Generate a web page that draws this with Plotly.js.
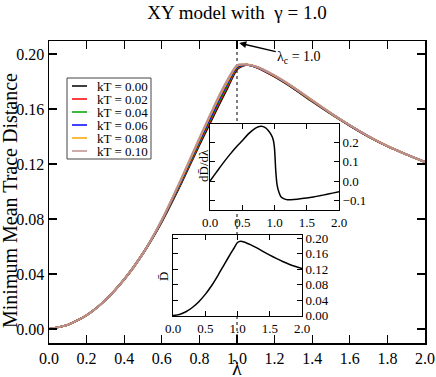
<!DOCTYPE html>
<html>
<head>
<meta charset="utf-8">
<script src="https://cdn.plot.ly/plotly-3.0.1.min.js"></script>
<style>
  html, body { margin: 0; padding: 0; background: #fff; }
  #chart { width: 436px; height: 377px; }
</style>
</head>
<body>
<div id="chart"></div>
<script>
// lambda grid for the main curves and the D inset
const lam = [0, 0.1, 0.2, 0.3, 0.4, 0.5, 0.6, 0.7, 0.8, 0.9, 0.95, 1.0, 1.05, 1.1, 1.2, 1.3, 1.4, 1.5, 1.6, 1.7, 1.8, 1.9, 2.0];

const kT = ['0.00', '0.02', '0.04', '0.06', '0.08', '0.10'];
const kTColors = ['#000000', '#ff0000', '#00a000', '#0000ff', '#ffa500', '#bc8f8f'];

const D000 = [0, 0.003, 0.010, 0.021, 0.036, 0.055, 0.0780, 0.1050, 0.1340, 0.1620, 0.1755, 0.1890, 0.1922, 0.1905, 0.1835, 0.1750, 0.1655, 0.1565, 0.1480, 0.1400, 0.1330, 0.1270, 0.1215];
const D002 = [0, 0.003, 0.010, 0.021, 0.036, 0.055, 0.0783, 0.1057, 0.1350, 0.1633, 0.1767, 0.1896, 0.1922, 0.1906, 0.1837, 0.1752, 0.1657, 0.1566, 0.1480, 0.1400, 0.1330, 0.1270, 0.1215];
const D004 = [0, 0.003, 0.010, 0.021, 0.036, 0.055, 0.0786, 0.1064, 0.1360, 0.1646, 0.1779, 0.1902, 0.1923, 0.1907, 0.1839, 0.1754, 0.1659, 0.1567, 0.1481, 0.1400, 0.1330, 0.1270, 0.1215];
const D006 = [0, 0.003, 0.010, 0.021, 0.036, 0.055, 0.0789, 0.1071, 0.1370, 0.1659, 0.1791, 0.1908, 0.1923, 0.1908, 0.1841, 0.1756, 0.1661, 0.1568, 0.1481, 0.1401, 0.1330, 0.1270, 0.1215];
const D008 = [0, 0.003, 0.010, 0.021, 0.036, 0.055, 0.0792, 0.1078, 0.1380, 0.1672, 0.1803, 0.1914, 0.1924, 0.1909, 0.1843, 0.1758, 0.1663, 0.1569, 0.1482, 0.1401, 0.1331, 0.1270, 0.1215];
const D010 = [0, 0.003, 0.010, 0.021, 0.036, 0.055, 0.0795, 0.1085, 0.1390, 0.1685, 0.1815, 0.1920, 0.1924, 0.1910, 0.1845, 0.1760, 0.1665, 0.1570, 0.1482, 0.1402, 0.1331, 0.1271, 0.1215];
const Dseries = [D000, D002, D004, D006, D008, D010];

// derivative inset (kT = 0)
const lamDer = [0, 0.1, 0.2, 0.3, 0.4, 0.5, 0.6, 0.7, 0.75, 0.8, 0.85, 0.9, 0.95, 0.98, 1.0, 1.02, 1.04, 1.07, 1.1, 1.15, 1.2, 1.25, 1.3, 1.4, 1.5, 1.6, 1.7, 1.8, 1.9, 2.0];
const dDdl = [0, 0.046, 0.092, 0.135, 0.175, 0.21, 0.247, 0.274, 0.283, 0.285, 0.279, 0.265, 0.240, 0.215, 0.17, 0.05, -0.02, -0.06, -0.082, -0.093, -0.097, -0.097, -0.096, -0.093, -0.089, -0.083, -0.077, -0.070, -0.063, -0.056];

const lambdaC = 1.0;

// page geometry (pixels) -> paper fractions
const W = 436, H = 377, ML = 49, MR = 11, MT = 41, MB = 34;
const px = p => (p - ML) / (W - ML - MR);
const py = p => (H - MB - p) / (H - MT - MB);

const FONT = '"Liberation Serif", "Times New Roman", Times, serif';

const traces = Dseries.map((d, i) => ({
  x: lam, y: d, type: 'scatter', mode: 'lines',
  line: { color: kTColors[i], width: 2, shape: 'spline', smoothing: 0.6 },
  xaxis: 'x', yaxis: 'y', showlegend: false,
}));

traces.push({
  x: lamDer, y: dDdl, type: 'scatter', mode: 'lines',
  line: { color: '#000', width: 1.5, shape: 'spline', smoothing: 0.5 },
  xaxis: 'x2', yaxis: 'y2', showlegend: false,
});
traces.push({
  x: lam, y: D000, type: 'scatter', mode: 'lines',
  line: { color: '#000', width: 1.5, shape: 'spline', smoothing: 0.6 },
  xaxis: 'x3', yaxis: 'y3', showlegend: false,
});

const mainAxis = {
  showline: true, linecolor: '#000', linewidth: 1.5, mirror: 'ticks',
  ticks: 'inside', ticklen: 8, tickwidth: 1.2, tickcolor: '#000',
  showgrid: false, zeroline: false,
  tickfont: { family: FONT, size: 16, color: '#000' },
};
const insetAxis = {
  showline: true, linecolor: '#000', linewidth: 1, mirror: 'ticks',
  ticks: 'inside', ticklen: 5, tickwidth: 1, tickcolor: '#000',
  showgrid: false, zeroline: false,
  tickfont: { family: FONT, size: 13, color: '#000' },
};

const shapes = [
  { type: 'line', xref: 'x', yref: 'y domain', x0: lambdaC, x1: lambdaC, y0: 0, y1: 1, layer: 'below',
    line: { color: '#000', width: 1, dash: 'dot' } },
  { type: 'line', xref: 'x2', yref: 'y2 domain', x0: lambdaC, x1: lambdaC, y0: 0, y1: 1, layer: 'below',
    line: { color: '#000', width: 1, dash: 'dot' } },
  { type: 'line', xref: 'x3', yref: 'y3 domain', x0: lambdaC, x1: lambdaC, y0: 0, y1: 1, layer: 'below',
    line: { color: '#000', width: 1, dash: 'dot' } },
  // legend box
  { type: 'rect', xref: 'paper', yref: 'paper', x0: px(67), x1: px(151), y0: py(78), y1: py(159),
    line: { color: '#444', width: 1 }, fillcolor: '#fff' },
];

// text placed in pixels with explicit anchors
const label = (x, y, text, size, angle) => ({
  xref: 'paper', yref: 'paper', x: px(x), y: py(y), xanchor: 'center', yanchor: 'middle',
  text: text, textangle: angle || 0, showarrow: false,
  font: { family: FONT, size: size, color: '#000' },
});

const annotations = [
  label(237, 368, 'λ', 20),
  label(10, 201, 'Minimum Mean Trace Distance', 20, -90),
  label(203, 166, 'dD\u0304/dλ', 13, -90),
  label(163, 277, 'D\u0304', 13, -90),
  { xref: 'x', yref: 'y', x: 1.012, y: 0.208, ax: 60, ay: 14,
    text: 'λ<sub>c</sub> = 1.0', showarrow: true, arrowhead: 2, arrowsize: 1, arrowwidth: 1.4, arrowcolor: '#000',
    font: { family: FONT, size: 14, color: '#000' } },
];

kT.forEach((k, i) => {
  const yy = py(86 + 13 * i);
  shapes.push({ type: 'line', xref: 'paper', yref: 'paper', x0: px(72), x1: px(87), y0: yy, y1: yy,
    line: { color: kTColors[i], width: 1.5 } });
  annotations.push({ xref: 'paper', yref: 'paper', x: px(95), y: yy, xanchor: 'left', yanchor: 'middle',
    text: 'kT = ' + k, showarrow: false, font: { family: FONT, size: 13, color: '#000' } });
});

const layout = {
  width: W, height: H,
  margin: { l: ML, r: MR, t: MT, b: MB },
  paper_bgcolor: '#fff', plot_bgcolor: '#fff',
  font: { family: FONT, color: '#000' },
  title: { text: 'XY model with\u00a0\u00a0γ = 1.0', font: { family: FONT, size: 19, color: '#000' },
    xref: 'paper', x: 0.5, xanchor: 'center', yref: 'container', y: 1 - 12 / H, yanchor: 'middle' },
  xaxis: { ...mainAxis, range: [0, 2], dtick: 0.2, tick0: 0, tickformat: '.1f' },
  yaxis: { ...mainAxis, range: [-0.0102, 0.2095], dtick: 0.04, tick0: 0, tickformat: '.2f' },
  xaxis2: { ...insetAxis, domain: [px(210), px(339)], anchor: 'y2', range: [0, 2], dtick: 0.5, tick0: 0, tickformat: '.1f' },
  yaxis2: { ...insetAxis, domain: [py(210), py(124)], anchor: 'x2', side: 'right', range: [-0.151, 0.297], dtick: 0.1, tick0: 0, tickformat: '.1f' },
  xaxis3: { ...insetAxis, domain: [px(173), px(302)], anchor: 'y3', range: [0, 2], dtick: 0.5, tick0: 0, tickformat: '.1f' },
  yaxis3: { ...insetAxis, domain: [py(316), py(235)], anchor: 'x3', side: 'right', range: [-0.001, 0.2085], dtick: 0.04, tick0: 0, tickformat: '.2f' },
  shapes: shapes,
  annotations: annotations,
};

Plotly.newPlot('chart', traces, layout, { displayModeBar: false, staticPlot: true });
</script>
</body>
</html>
